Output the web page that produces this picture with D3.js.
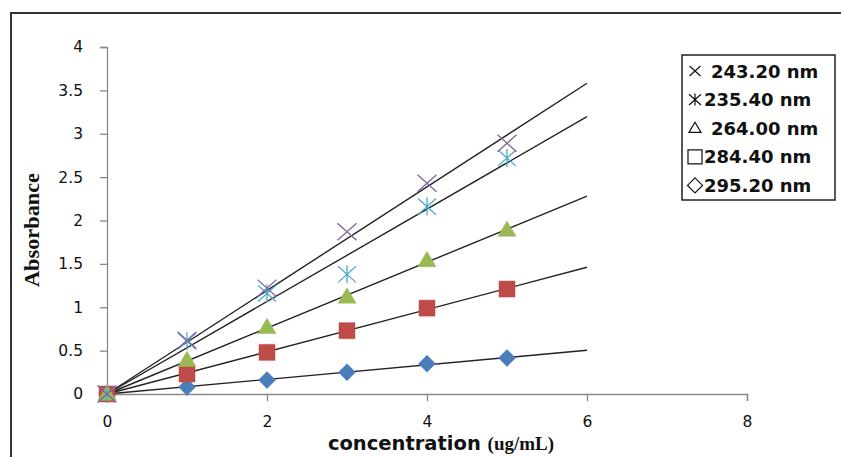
<!DOCTYPE html>
<html>
<head>
<meta charset="utf-8">
<script src="https://cdn.jsdelivr.net/npm/d3@7"></script>
<style>
  body { margin: 0; background: #fff; }
  svg { display: block; }
</style>
</head>
<body>
<div id="chart"></div>
<script>
// chart data
const CONC = [0, 1, 2, 3, 4, 5];
const A_295 = [0, 0.08, 0.16, 0.25, 0.35, 0.415];
const A_284 = [0, 0.23, 0.48, 0.73, 0.99, 1.21];
const A_264 = [0, 0.39, 0.77, 1.12, 1.54, 1.89];
const A_235 = [0, 0.61, 1.16, 1.38, 2.16, 2.72];
const A_243 = [0, 0.62, 1.22, 1.87, 2.43, 2.89];
const Y_TICKS = [0, 0.5, 1, 1.5, 2, 2.5, 3, 3.5, 4];
const X_TICKS = [0, 2, 4, 6, 8];
const LEGEND_LABELS = ['243.20 nm', '235.40 nm', '264.00 nm', '284.40 nm', '295.20 nm'];

const FRAME_WIDTH = 841;
const FRAME_HEIGHT = 457;

const svg = d3.select('#chart')
    .append('svg')
        .attr('width', FRAME_WIDTH)
        .attr('height', FRAME_HEIGHT);

// outer frame (only top and left edges are in the picture)
svg.append('path')
    .attr('d', 'M11,' + FRAME_HEIGHT + 'V13H' + FRAME_WIDTH)
    .attr('fill', 'none')
    .attr('stroke', '#333')
    .attr('stroke-width', 2);

const X_SCALE = d3.scaleLinear().domain([0, 8]).range([107, 747]);
const Y_SCALE = d3.scaleLinear().domain([0, 4]).range([394, 47]);

// axes
const yAxis = svg.append('g')
    .attr('transform', 'translate(107,0)')
    .call(d3.axisLeft(Y_SCALE).tickValues(Y_TICKS).tickSize(7).tickPadding(18)
        .tickFormat(d3.format('')));
const xAxis = svg.append('g')
    .attr('transform', 'translate(0,394)')
    .call(d3.axisBottom(X_SCALE).tickValues(X_TICKS).tickSize(7).tickPadding(15)
        .tickFormat(d3.format('')));
[yAxis, xAxis].forEach(ax => {
    ax.select('.domain').attr('stroke', '#888').attr('stroke-width', 1.3);
    ax.selectAll('.tick line').attr('stroke', '#888').attr('stroke-width', 1.3);
    ax.selectAll('.tick text')
        .attr('font-family', 'DejaVu Sans, Verdana, sans-serif')
        .attr('font-size', 15.5)
        .attr('fill', '#111');
});
yAxis.selectAll('.tick text').attr('x', -24);

// axis titles
const xTitle = svg.append('text')
    .attr('x', 441)
    .attr('y', 450)
    .attr('text-anchor', 'middle')
    .attr('fill', '#111');
xTitle.append('tspan')
    .attr('font-family', 'DejaVu Sans, Verdana, sans-serif')
    .attr('font-weight', 'bold')
    .attr('font-size', 19.5)
    .text('concentration ');
xTitle.append('tspan')
    .attr('font-family', 'Liberation Serif, Times New Roman, serif')
    .attr('font-weight', 'bold')
    .attr('font-size', 19)
    .text('(ug/mL)');

svg.append('text')
    .attr('transform', 'translate(39,230) rotate(-90)')
    .attr('text-anchor', 'middle')
    .attr('font-family', 'Liberation Serif, Times New Roman, serif')
    .attr('font-weight', 'bold')
    .attr('font-size', 21)
    .attr('fill', '#111')
    .attr('textLength', 114)
    .attr('lengthAdjust', 'spacingAndGlyphs')
    .text('Absorbance');

// marker shapes, s = half size
const SHAPES = {
    diamond: s => 'M0,' + (-s) + 'L' + s + ',0L0,' + s + 'L' + (-s) + ',0Z',
    square: s => 'M' + (-s) + ',' + (-s) + 'H' + s + 'V' + s + 'H' + (-s) + 'Z',
    triangle: s => 'M0,' + (-s) + 'L' + s + ',' + (s * 0.7) + 'L' + (-s) + ',' + (s * 0.7) + 'Z',
    cross: s => 'M' + (-s) + ',' + (-s * 0.9) + 'L' + s + ',' + (s * 0.9) +
        'M' + (-s) + ',' + (s * 0.9) + 'L' + s + ',' + (-s * 0.9),
    star: s => 'M' + (-s) + ',' + (-s * 0.9) + 'L' + s + ',' + (s * 0.9) +
        'M' + (-s) + ',' + (s * 0.9) + 'L' + s + ',' + (-s * 0.9) +
        'M0,' + (-s) + 'V' + s
};

const SERIES = [
    {values: A_295, shape: 'diamond', color: '#4A7EBB', size: 8.5, filled: true},
    {values: A_284, shape: 'square', color: '#BE4B48', size: 8, filled: true},
    {values: A_264, shape: 'triangle', color: '#98B954', size: 9, filled: true},
    {values: A_235, shape: 'star', color: '#4BACC6', size: 9, filled: false},
    {values: A_243, shape: 'cross', color: '#8064A2', size: 9.5, filled: false}
];

// linear trendlines through the origin, drawn out to x = 6
const lines = svg.append('g');
SERIES.forEach(s => {
    const sxy = d3.sum(CONC, (x, i) => x * s.values[i]);
    const sxx = d3.sum(CONC, x => x * x);
    const slope = sxy / sxx;
    lines.append('line')
        .attr('x1', X_SCALE(0))
        .attr('y1', Y_SCALE(0))
        .attr('x2', X_SCALE(6))
        .attr('y2', Y_SCALE(slope * 6))
        .attr('stroke', '#222')
        .attr('stroke-width', 1.4);
});

// points
SERIES.forEach(s => {
    svg.append('g').selectAll('path')
        .data(CONC.map((x, i) => ({x: x, y: s.values[i]})))
        .enter()
        .append('path')
        .attr('transform', d => 'translate(' + X_SCALE(d.x) + ',' + Y_SCALE(d.y) + ')')
        .attr('d', SHAPES[s.shape](s.size))
        .attr('fill', s.filled ? s.color : 'none')
        .attr('stroke', s.color)
        .attr('stroke-width', s.filled ? 0.5 : 1.3);
});

// legend
const legend = svg.append('g');
legend.append('rect')
    .attr('x', 682)
    .attr('y', 55)
    .attr('width', 153)
    .attr('height', 145)
    .attr('fill', '#fff')
    .attr('stroke', '#222')
    .attr('stroke-width', 1.5);

const LEGEND_SHAPES = ['cross', 'star', 'triangle', 'square', 'diamond'];
const LEGEND_SIZES = [5.5, 6, 6, 7, 7.5];
LEGEND_LABELS.forEach((label, i) => {
    const cy = 71 + i * 28.6;
    legend.append('path')
        .attr('transform', 'translate(695,' + cy + ')')
        .attr('d', SHAPES[LEGEND_SHAPES[i]](LEGEND_SIZES[i]))
        .attr('fill', 'none')
        .attr('stroke', '#111')
        .attr('stroke-width', 1.2);
    legend.append('text')
        .attr('x', i === 1 || i === 3 || i === 4 ? 704 : 711)
        .attr('y', cy + 6.5)
        .attr('font-family', 'DejaVu Sans, Verdana, sans-serif')
        .attr('font-weight', 'bold')
        .attr('font-size', 18)
        .attr('fill', '#111')
        .text(label);
});
</script>
</body>
</html>
